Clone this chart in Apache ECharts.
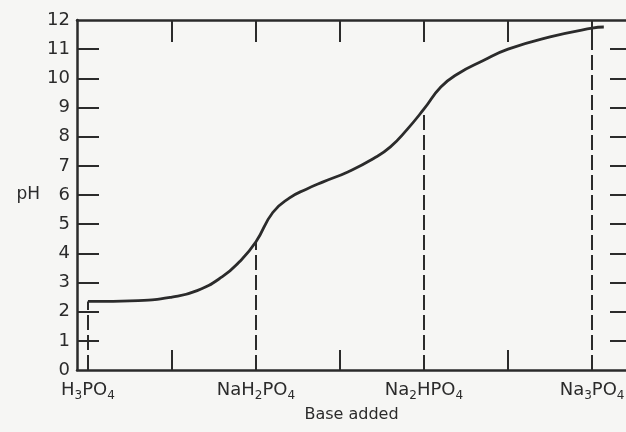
<!DOCTYPE html>
<html>
<head>
<meta charset="utf-8">
<script src="https://cdn.jsdelivr.net/npm/echarts@6/dist/echarts.min.js"></script>
<style>
  html, body { margin: 0; padding: 0; background: #f6f6f4; }
  #chart { width: 626px; height: 432px; }
</style>
</head>
<body>
<div id="chart"></div>
<script>
(function () {
    'use strict';

    // base added, in equivalents of NaOH
    var baseAdded = [0, 0.3, 0.5, 0.65, 0.8, 0.9, 1.0, 1.1, 1.2, 1.3, 1.4, 1.55, 1.7, 1.8, 1.9, 2.0, 2.1, 2.2, 2.35, 2.5, 2.75, 3.0, 3.07];
    var phValues  = [2.35, 2.38, 2.5, 2.72, 3.2, 3.7, 4.4, 5.4, 5.9, 6.2, 6.45, 6.8, 7.25, 7.65, 8.25, 8.95, 9.7, 10.15, 10.6, 11.0, 11.42, 11.72, 11.76];

    // equivalence points (dashed drop lines)
    var equivX  = [0, 1, 2, 3];
    var equivPH = [2.35, 4.4, 8.95, 11.72];
    var saltLabels = [
        '{n|H}{s|3}{n|PO}{s|4}',
        '{n|NaH}{s|2}{n|PO}{s|4}',
        '{n|Na}{s|2}{n|HPO}{s|4}',
        '{n|Na}{s|3}{n|PO}{s|4}'
    ];

    var midTicks = [0.5, 1.5, 2.5];
    var topTicks = [0.5, 1, 1.5, 2, 2.5, 3];
    var sideTicks = [1, 2, 3, 4, 5, 6, 7, 8, 9, 10, 11];

    var ink = '#2b2b2b';
    var font = 'DejaVu Sans';

    var chart = echarts.init(document.getElementById('chart'));

    var curve = baseAdded.map(function (x, i) { return [x, phValues[i]]; });
    var drops = equivX.map(function (x, i) {
        return [{ coord: [x, 0] }, { coord: [x, equivPH[i]] }];
    });

    var axisLine = { show: true, onZero: false, lineStyle: { color: ink, width: 2.5 } };

    chart.setOption({
        backgroundColor: '#f6f6f4',
        animation: false,
        grid: { left: 77, right: 0, top: 20, bottom: 62, outerBoundsMode: 'none' },
        xAxis: [{
            type: 'value',
            position: 'bottom',
            min: -0.065,
            max: 3.202,
            splitLine: { show: false },
            axisLine: axisLine,
            axisTick: { show: true, inside: true, length: 20, customValues: midTicks, lineStyle: { color: ink, width: 2 } },
            axisLabel: {
                show: true,
                customValues: equivX,
                margin: 8,
                formatter: function (v) { return saltLabels[equivX.indexOf(v)]; },
                rich: {
                    n: { fontFamily: font, fontSize: 18, color: ink, lineHeight: 24 },
                    s: { fontFamily: font, fontSize: 12, color: ink, lineHeight: 12, verticalAlign: 'bottom' }
                }
            },
            name: 'Base added',
            nameLocation: 'middle',
            nameGap: 34,
            nameTextStyle: { fontFamily: font, fontSize: 16, color: ink, verticalAlign: 'top' }
        }, {
            type: 'value',
            position: 'top',
            min: -0.065,
            max: 3.202,
            splitLine: { show: false },
            axisLine: axisLine,
            axisTick: { show: true, inside: true, length: 22, customValues: topTicks, lineStyle: { color: ink, width: 2 } },
            axisLabel: { show: false }
        }],
        yAxis: [{
            type: 'value',
            position: 'left',
            min: 0,
            max: 12,
            interval: 1,
            splitLine: { show: false },
            axisLine: axisLine,
            axisTick: { show: true, inside: true, length: 22, customValues: sideTicks, lineStyle: { color: ink, width: 2 } },
            axisLabel: { fontFamily: font, fontSize: 18, color: ink, margin: 7 },
            name: 'pH',
            nameLocation: 'middle',
            nameRotate: 0,
            nameGap: 37,
            nameTextStyle: { fontFamily: font, fontSize: 17, color: ink }
        }, {
            type: 'value',
            position: 'right',
            min: 0,
            max: 12,
            interval: 1,
            splitLine: { show: false },
            axisLine: { show: false, onZero: false },
            axisTick: { show: true, inside: true, length: 16, customValues: sideTicks, lineStyle: { color: ink, width: 2 } },
            axisLabel: { show: false }
        }],
        series: [{
            type: 'line',
            data: curve,
            smooth: 0.5,
            symbol: 'none',
            lineStyle: { color: ink, width: 2.8 },
            markLine: {
                silent: true,
                symbol: 'none',
                label: { show: false },
                lineStyle: { color: ink, width: 2, type: [15, 5] },
                data: drops
            }
        }]
    });
})();
</script>
</body>
</html>
